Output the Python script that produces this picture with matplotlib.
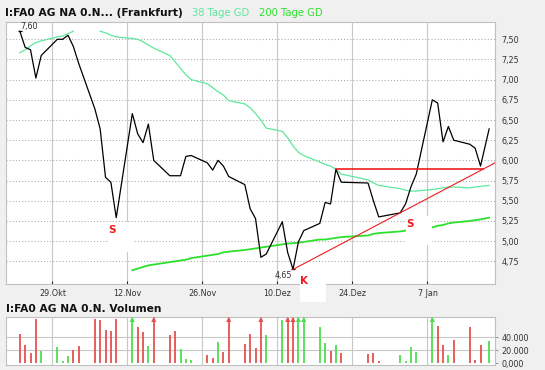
import matplotlib
matplotlib.use("Agg")
import matplotlib.pyplot as plt
import matplotlib.dates as mdates
import numpy as np
import pandas as pd
from matplotlib.patches import Rectangle
from matplotlib.transforms import IdentityTransform

# ---- data --------------------------------------------------------------
days = [
    "2012-10-22", "2012-10-23", "2012-10-24", "2012-10-25", "2012-10-26",
    "2012-10-29", "2012-10-30", "2012-10-31", "2012-11-01", "2012-11-02",
    "2012-11-05", "2012-11-06", "2012-11-07", "2012-11-08", "2012-11-09",
    "2012-11-12", "2012-11-13", "2012-11-14", "2012-11-15", "2012-11-16",
    "2012-11-19", "2012-11-20", "2012-11-21", "2012-11-22", "2012-11-23",
    "2012-11-26", "2012-11-27", "2012-11-28", "2012-11-29", "2012-11-30",
    "2012-12-03", "2012-12-04", "2012-12-05", "2012-12-06", "2012-12-07",
    "2012-12-10", "2012-12-11", "2012-12-12", "2012-12-13", "2012-12-14",
    "2012-12-17", "2012-12-18", "2012-12-19", "2012-12-20", "2012-12-21",
    "2012-12-26", "2012-12-27", "2012-12-28",
    "2013-01-01", "2013-01-02", "2013-01-03", "2013-01-04",
    "2013-01-07", "2013-01-08", "2013-01-09", "2013-01-10", "2013-01-11",
    "2013-01-14", "2013-01-15", "2013-01-16", "2013-01-17 14:30",
]

price = [
    7.60, 7.40, 7.37, 7.02, 7.30,
    7.50, 7.50, 7.55, 7.41, 7.20,
    6.64, 6.39, 5.79, 5.73, 5.29,
    6.58, 6.33, 6.22, 6.45, 6.00,
    5.81, 5.81, 5.81, 6.05, 6.06,
    5.97, 5.88, 6.00, 5.93, 5.80,
    5.70, 5.40, 5.28, 4.80, 4.84,
    5.24, 4.86, 4.65, 4.99, 5.13,
    5.22, 5.48, 5.46, 5.89, 5.73,
    5.72, 5.50, 5.30,
    5.35, 5.46, 5.67, 5.83,
    6.75, 6.71, 6.23, 6.42, 6.25,
    6.20, 6.15, 5.93, 6.39,
]

gd38 = [
    7.335, 7.37, 7.42, 7.46, 7.48,
    7.53, 7.54, 7.57, 7.60, np.nan,
    np.nan, 7.60, 7.58, 7.55, 7.53,
    7.51, 7.50, 7.47, 7.43, 7.39,
    7.30, 7.22, 7.14, 7.06, 7.00,
    6.95, 6.90, 6.85, 6.81, 6.74,
    6.70, 6.65, 6.58, 6.50, 6.40,
    6.36, 6.28, 6.18, 6.10, 6.06,
    5.98, 5.95, 5.93, 5.89, 5.83,
    5.76, 5.72, 5.69,
    5.65, 5.63, 5.62, 5.62,
    5.64, 5.65, 5.66, 5.67, 5.67,
    5.66, 5.67, 5.68, 5.69,
]

gd200 = [
    np.nan, np.nan, np.nan, np.nan, np.nan,
    np.nan, np.nan, np.nan, np.nan, np.nan,
    np.nan, np.nan, np.nan, np.nan, np.nan,
    4.64, 4.66, 4.68, 4.70, 4.71,
    4.74, 4.75, 4.76, 4.77, 4.79,
    4.82, 4.83, 4.84, 4.86, 4.87,
    4.89, 4.90, 4.91, 4.92, 4.93,
    4.96, 4.97, 4.975, 4.98, 4.99,
    5.02, 5.02, 5.03, 5.04, 5.05,
    5.07, 5.09, 5.10,
    5.12, 5.13, 5.14, 5.15,
    5.17, 5.19, 5.20, 5.22, 5.23,
    5.25, 5.26, 5.27, 5.29,
]

volume = [
    45000, 28000, 16000, 68000, 19000,
    25000, 3500, 11000, 20500, 26500,
    68000, 66500, 51000, 49500, 68000,
    90000, 56000, 48000, 26500, 90000,
    43500, 49500, 22000, 6500, 5000,
    12500, 8000, 32500, 17500, 90000,
    29500, 45000, 23500, 90000, 43500,
    66500, 90000, 90000, 90000, 90000,
    56000, 31000, 19000, 28000, 16000,
    14500, 16000, 3500,
    12500, 3500, 25000, 17500,
    90000, 57500, 28000, 12500, 36000,
    56000, 5000, 28000, 34500,
]
# r = day closed lower, g = day closed higher
vol_dir = "rrrrg" "gggrr" "rrrrr" "grrgr" "rrggg" "rrgrr" "rrrrg" "grrgg" "ggrgr" "rrr" "gggg" "grrgr" "rrrg"

tick_days = ["2012-10-29", "2012-11-12", "2012-11-26", "2012-12-10", "2012-12-24", "2013-01-07"]
tick_labels = ["29.Okt", "12.Nov", "26.Nov", "10.Dez", "24.Dez", "7 Jan"]
price_ticks = [4.75, 5.00, 5.25, 5.50, 5.75, 6.00, 6.25, 6.50, 6.75, 7.00, 7.25, 7.50]
price_tick_labels = ["4,75", "5,00", "5,25", "5,50", "5,75", "6,00",
                     "6,25", "6,50", "6,75", "7,00", "7,25", "7,50"]
vol_ticks = [0, 20000, 40000]
vol_tick_labels = ["0,000", "20.000", "40.000"]

# signal letters: (letter, day, offset right px, offset down px)
signals = [("S", "2012-11-09", -4.7, 12.6),
           ("K", "2012-12-12", 10.8, 11.6),
           ("S", "2013-01-01", 9.6, 11.1)]
trend_days = ("2012-12-12", "2013-01-01")
resist_day = "2012-12-20"

# ---- styling -------------------------------------------------------------
PX = 0.72            # points per pixel at 100 dpi
DAY_SHIFT = 0.9      # daily points sit about a day right of the week grid
BG = "#f0f0f0"
GRID = "#c8c8c8"
TXT = "#333333"
C38 = "#5ee89c"
C200 = "#2ee02e"
RED = "#ee1c1c"
VRED = "#e65050"
VGREEN = "#4fdc4f"
FS = 5.8

plt.rcParams["font.family"] = ["DejaVu Sans"]

x = mdates.date2num(pd.to_datetime(days, format="ISO8601")) + DAY_SHIFT
price = np.array(price)
volume = np.array(volume)
day_x = dict(zip(days, x))
day_p = dict(zip(days, price))
tick_x = mdates.date2num(pd.to_datetime(tick_days))
t0 = tick_x[0]
xlim = (t0 - 8.77, t0 + 82.6)

fig = plt.figure(figsize=(5.45, 3.70), dpi=100, facecolor=BG)
ax = fig.add_axes([5.5 / 545, 86 / 370, 489.5 / 545, 262.3 / 370])
axv = fig.add_axes([5.5 / 545, 5 / 370, 489.5 / 545, 47.7 / 370])

# ---- price panel -----------------------------------------------------------
ax.set_xlim(xlim)
ax.set_ylim(4.469, 7.718)
for t in tick_x:
    ax.axvline(t, color=GRID, lw=0.8, zorder=0.5)
for p in price_ticks:
    ax.axhline(p, color="#a8a8a8", lw=0.75, ls=(0, (1, 2)), zorder=0.5)

ax.plot(x, gd38, color=C38, lw=0.9, zorder=1)
ax.plot(x, gd200, color=C200, lw=1.3, zorder=1)
ax.plot(x, price, color="black", lw=0.9, zorder=3)

# max / min marks
imax, imin = int(np.argmax(price)), int(np.argmin(price))
for i, off in ((imax, (9, 4.5)), (imin, (-10, -6))):
    ax.plot(x[i], price[i], marker="_", ms=5 * PX, mew=0.9, color="black", zorder=3)
    ax.annotate(f"{price[i]:.2f}".replace(".", ","), (x[i], price[i]),
                xytext=(off[0] * PX, off[1] * PX), textcoords="offset points",
                ha="center", va="center", fontsize=FS, color=TXT, zorder=4)

# trend line through the two lows, extended to the right edge
xa, xb = day_x[trend_days[0]], day_x[trend_days[1]]
pa, pb = day_p[trend_days[0]], day_p[trend_days[1]]
slope = (pb - pa) / (xb - xa)
ax.plot([xa, xlim[1]], [pa, pa + slope * (xlim[1] - xa)], color=RED, lw=0.8, zorder=3)
# resistance line from the peak until it meets the trend line
level = day_p[resist_day]
x_cross = xa + (level - pa) / slope
ax.plot([day_x[resist_day], x_cross], [level, level], color=RED, lw=1.2, zorder=3)

# signal letters on white boxes
for letter, d, dx, dy in signals:
    ax_d, ay_d = ax.transData.transform((day_x[d], day_p[d]))
    lx, ly = ax_d + dx, ay_d - dy
    ax.add_patch(Rectangle((lx - 4, ly - 21.5), 26, 29.5, transform=IdentityTransform(),
                           facecolor="white", edgecolor="none", zorder=2.6, clip_on=False))
    ax.annotate(letter, (day_x[d], day_p[d]), xytext=(dx * PX, -dy * PX),
                textcoords="offset points", ha="center", va="center",
                fontsize=7.5, fontweight="bold", color=RED, zorder=4)

ax.set_xticks(tick_x)
ax.set_xticklabels(tick_labels)
ax.tick_params(axis="x", direction="in", length=2.2, width=0.8, color="#222222",
               labelsize=FS, labelcolor=TXT, pad=3.5)
ax.yaxis.tick_right()
ax.set_yticks(price_ticks)
ax.set_yticklabels(price_tick_labels)
ax.tick_params(axis="y", length=0, labelsize=FS, labelcolor=TXT, pad=4.5)
for s in ax.spines.values():
    s.set_color("#c0c0c0")
    s.set_linewidth(0.8)

# ---- volume panel ----------------------------------------------------------
vtop = 70800
axv.set_xlim(xlim)
axv.set_ylim(-2600, vtop)
for t in tick_x:
    axv.axvline(t, color=GRID, lw=0.8, zorder=0.5)
for v in vol_ticks[1:]:
    axv.axhline(v, color=GRID, lw=0.8, zorder=0.5)
vcol = [VRED if c == "r" else VGREEN for c in vol_dir]
axv.vlines(x, 0, volume, colors=vcol, lw=1.3, zorder=2)
clip = volume > vtop
axv.scatter(x[clip], np.full(clip.sum(), vtop * 0.955), marker="^", s=14,
            c=[c for c, k in zip(vcol, clip) if k], linewidths=0, zorder=3, clip_on=False)

axv.set_xticks(tick_x)
axv.tick_params(axis="x", length=0, labelbottom=False)
axv.yaxis.tick_right()
axv.set_yticks(vol_ticks)
axv.set_yticklabels(vol_tick_labels)
axv.tick_params(axis="y", length=2, width=0.8, color="#999999", labelsize=FS,
                labelcolor=TXT, pad=2.5)
for s in axv.spines.values():
    s.set_color("#c0c0c0")
    s.set_linewidth(0.8)

# ---- titles --------------------------------------------------------------
ty = 1 - 12.5 / 370
fig.text(5 / 545, ty, "I:FA0 AG NA 0.N... (Frankfurt)", fontsize=7.7, fontweight="bold",
         color="#111111", ha="left", va="center")
fig.text(192 / 545, ty, "38 Tage GD", fontsize=7.2, color=C38, ha="left", va="center")
fig.text(259 / 545, ty, "200 Tage GD", fontsize=7.2, color=C200, ha="left", va="center")
fig.text(6 / 545, 1 - 309.5 / 370, "I:FA0 AG NA 0.N. Volumen", fontsize=7.7,
         fontweight="bold", color="#111111", ha="left", va="center")

fig.savefig("out.png", dpi=100, facecolor=BG)
